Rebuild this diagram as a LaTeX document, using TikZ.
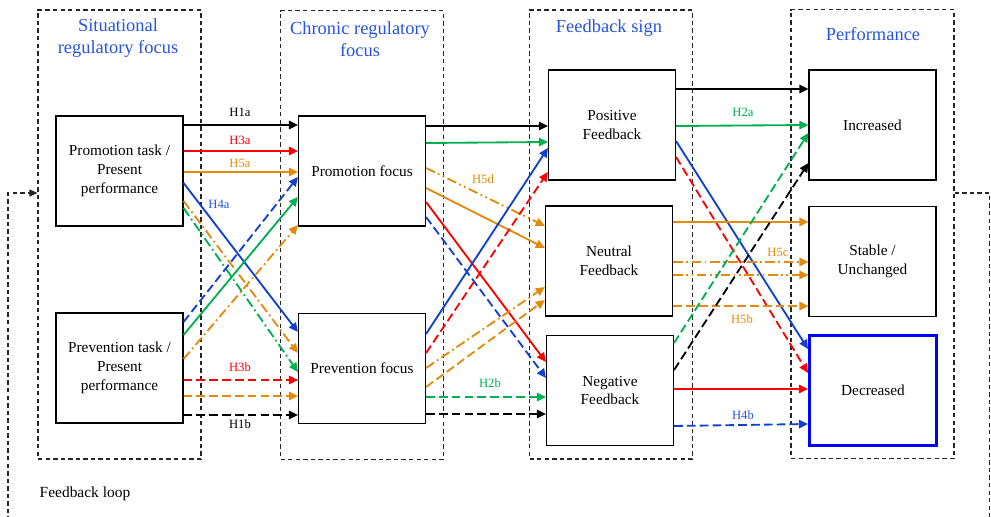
\documentclass[tikz,border=0pt]{standalone}
\usepackage{fontspec}
\setmainfont{Liberation Serif}
\usetikzlibrary{arrows.meta}
\definecolor{titleblue}{RGB}{38,84,222}
\definecolor{hblue}{RGB}{16,64,208}
\definecolor{hred}{RGB}{255,0,0}
\definecolor{horange}{RGB}{226,139,10}
\definecolor{hgreen}{RGB}{0,176,80}
\tikzset{
  frame/.style={draw=black!85, line width=0.7pt, dash pattern=on 2.5pt off 1.8pt, minimum width=3.26cm, minimum height=8.98cm, inner sep=0pt},
  box/.style={draw, line width=0.65pt, minimum width=2.54cm, minimum height=2.2cm, align=center, inner sep=1pt, font=\fontsize{8.7}{10.8}\selectfont},
  title/.style={text=titleblue, align=center, font=\fontsize{10.5}{12.5}\selectfont},
  hlab/.style={font=\fontsize{7.2}{8}\selectfont, inner sep=1pt},
  link/.style={line width=1.05pt, -{Triangle[length=5.2pt,width=4.8pt]}},
  linkdash/.style={dash pattern=on 5pt off 2.3pt},
  linkdot/.style={dash pattern=on 5.5pt off 2pt on 1pt off 2pt},
  linkdots/.style={dash pattern=on 5.5pt off 2pt on 1pt off 2pt on 1pt off 2pt}
}
\begin{document}
\begin{tikzpicture}[x=0.02cm, y=-0.02cm]
\useasboundingbox (0,0) rectangle (991,517);
\clip (0,0) rectangle (991,517);
\node[frame] (fSit) at (119.5,234.5) {};
\node[frame] (fChr) at (362,235) {};
\node[frame] (fFb) at (611,234.5) {};
\node[frame] (fPerf) at (872.5,234) {};
\node[title] (tSit) at (118,38) {Situational\\regulatory focus};
\node[title] (tChr) at (360,39) {Chronic regulatory\\focus};
\node[title] (tFb) at (609,28.5) {Feedback sign};
\node[title] (tPerf) at (873,34.5) {Performance};
\node[box] (proTask) at (119.5,171) {Promotion task /\\Present\\performance};
\node[box] (preTask) at (119.5,368) {Prevention task /\\Present\\performance};
\node[box] (proFocus) at (362,171) {Promotion focus};
\node[box] (preFocus) at (362,368.5) {Prevention focus};
\node[box] (posFb) at (612,125) {Positive\\Feedback};
\node[box] (neuFb) at (609,261) {Neutral\\Feedback};
\node[box] (negFb) at (610,390.5) {Negative\\Feedback};
\node[box] (incr) at (872.5,125) {Increased};
\node[box] (stab) at (872.5,261.5) {Stable /\\Unchanged};
\node[box, draw=blue, line width=1.7pt] (decr) at (873,390.5) {Decreased};
\draw[link] (proTask.east |- 0,125) -- (proFocus.west |- 0,125);
\draw[link, hred] (proTask.east |- 0,151) -- (proFocus.west |- 0,151);
\draw[link, horange] (proTask.east |- 0,172) -- (proFocus.west |- 0,172);
\draw[link, hblue] (proTask.east |- 0,183) -- (preFocus.west |- 0,332);
\draw[link, horange, linkdot] (proTask.east |- 0,201) -- (preFocus.west |- 0,353);
\draw[link, hgreen, linkdot] (proTask.east |- 0,208) -- (preFocus.west |- 0,372);
\draw[link, hblue, linkdash] (preTask.east |- 0,322) -- (proFocus.west |- 0,177);
\draw[link, hgreen] (preTask.east |- 0,335) -- (proFocus.west |- 0,197);
\draw[link, horange, linkdot] (preTask.east |- 0,359) -- (proFocus.west |- 0,225);
\draw[link, hred, linkdash] (preTask.east |- 0,380) -- (preFocus.west |- 0,380);
\draw[link, horange, linkdash] (preTask.east |- 0,396) -- (preFocus.west |- 0,396);
\draw[link, linkdash] (preTask.east |- 0,415) -- (preFocus.west |- 0,415);
\draw[link] (proFocus.east |- 0,126) -- (posFb.west |- 0,126);
\draw[link, hgreen] (proFocus.east |- 0,143) -- (posFb.west |- 0,142);
\draw[link, horange, linkdots] (proFocus.east |- 0,168) -- (neuFb.west |- 0,226);
\draw[link, horange] (proFocus.east |- 0,188) -- (neuFb.west |- 0,248);
\draw[link, hred] (proFocus.east |- 0,202) -- (negFb.west |- 0,362);
\draw[link, hblue, linkdash] (proFocus.east |- 0,217) -- (negFb.west |- 0,378);
\draw[link, hblue] (preFocus.east |- 0,334) -- (posFb.west |- 0,148);
\draw[link, hred, linkdash] (preFocus.east |- 0,353) -- (posFb.west |- 0,172);
\draw[link, horange, linkdot] (preFocus.east |- 0,368) -- (neuFb.west |- 0,287);
\draw[link, horange, linkdash] (preFocus.east |- 0,387) -- (neuFb.west |- 0,300);
\draw[link, hgreen, linkdash] (preFocus.east |- 0,397) -- (negFb.west |- 0,397);
\draw[link, linkdash] (preFocus.east |- 0,414) -- (negFb.west |- 0,414);
\draw[link] (posFb.east |- 0,89) -- (incr.west |- 0,89);
\draw[link, hgreen] (posFb.east |- 0,126) -- (incr.west |- 0,125);
\draw[link, hblue] (posFb.east |- 0,141) -- (decr.west |- 0,349);
\draw[link, hred, linkdash] (posFb.east |- 0,157) -- (decr.west |- 0,373);
\draw[link, horange] (neuFb.east |- 0,222) -- (stab.west |- 0,222);
\draw[link, horange, linkdot] (neuFb.east |- 0,262) -- (stab.west |- 0,262);
\draw[link, horange, linkdots] (neuFb.east |- 0,275) -- (stab.west |- 0,275);
\draw[link, horange, linkdash] (neuFb.east |- 0,306) -- (stab.west |- 0,306);
\draw[link, hgreen, linkdash] (negFb.east |- 0,343) -- (incr.west |- 0,133);
\draw[link, linkdash] (negFb.east |- 0,370) -- (incr.west |- 0,163);
\draw[link, hred] (negFb.east |- 0,389) -- (decr.west |- 0,389);
\draw[link, hblue, linkdash] (negFb.east |- 0,426) -- (decr.west |- 0,424);
\node[hlab] (lH1a) at (240,112) {H1a};
\node[hlab, text=hred] (lH3a) at (240,140) {H3a};
\node[hlab, text=horange] (lH5a) at (240,163) {H5a};
\node[hlab, text=titleblue] (lH4a) at (219,204) {H4a};
\node[hlab, text=hred] (lH3b) at (240,367) {H3b};
\node[hlab] (lH1b) at (240,424) {H1b};
\node[hlab, text=horange] (lH5d) at (483,179) {H5d};
\node[hlab, text=hgreen] (lH2b) at (490,383) {H2b};
\node[hlab, text=hgreen] (lH2a) at (743,112) {H2a};
\node[hlab, text=horange] (lH5c) at (778,252) {H5c};
\node[hlab, text=horange] (lH5b) at (742,319) {H5b};
\node[hlab, text=titleblue] (lH4b) at (743,415) {H4b};
\draw[draw=black!85, line width=0.7pt, dash pattern=on 2.5pt off 1.8pt, -{Triangle[length=4.5pt,width=4pt]}] (fPerf.east |- 0,193) -- (989.5,193) -- (989.5,540) -- (8,540) -- (8,193) -- (fSit.west |- 0,193);
\node[font=\fontsize{8.8}{10}\selectfont] (loop) at (85,494) {Feedback loop};
\end{tikzpicture}
\end{document}
